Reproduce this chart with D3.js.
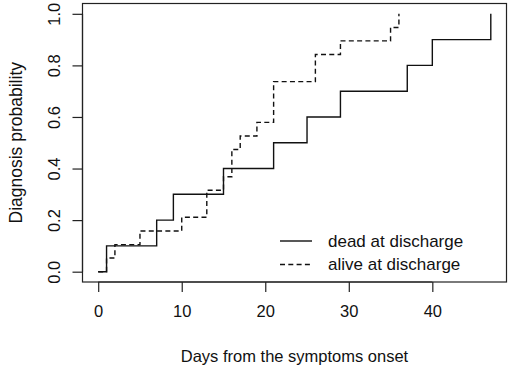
<!DOCTYPE html>
<html>
<head>
<meta charset="utf-8">
<script src="https://cdn.jsdelivr.net/npm/d3@7"></script>
<style>
  body { margin: 0; background: #fff; }
  text { font-family: "Liberation Sans", Arial, sans-serif; fill: #111; }
</style>
</head>
<body>
<div id="chart"></div>
<script>
// dead at discharge: step times (days) and cumulative probability
var deadDays = [0, 1, 7, 9, 15, 21, 25, 29, 37, 40, 47];
var deadProb = [0, 0.1, 0.2, 0.3, 0.4, 0.5, 0.6, 0.7, 0.8, 0.9, 1.0];
// alive at discharge
var aliveDays = [0, 1, 2, 5, 10, 13, 15, 16, 17, 19, 21, 26, 29, 35, 36];
var aliveProb = [0, 0.053, 0.105, 0.158, 0.211, 0.316, 0.368, 0.474, 0.526, 0.579, 0.737, 0.842, 0.895, 0.947, 1.0];

var xTicks = [0, 10, 20, 30, 40];
var yTicks = [0, 0.2, 0.4, 0.6, 0.8, 1.0];
var legendLabels = ["dead at discharge", "alive at discharge"];

var width = 510, height = 368;
var box = { left: 82.5, right: 506.5, top: 3.5, bottom: 282 };

var svg = d3.select("#chart").append("svg")
    .attr("width", width)
    .attr("height", height);

// scales (R style 4% padding)
var x = d3.scaleLinear().domain([-1.88, 48.88]).range([box.left, box.right]);
var y = d3.scaleLinear().domain([-0.04, 1.04]).range([box.bottom, box.top]);

// plot box
svg.append("rect")
    .attr("x", box.left).attr("y", box.top)
    .attr("width", box.right - box.left)
    .attr("height", box.bottom - box.top)
    .attr("fill", "none")
    .attr("stroke", "#222")
    .attr("stroke-width", 1.2);

// x axis
var xAxis = svg.append("g")
    .attr("transform", "translate(0," + box.bottom + ")")
    .call(d3.axisBottom(x).tickValues(xTicks).tickSize(10).tickPadding(13).tickSizeOuter(0));
xAxis.select(".domain")
    .attr("d", "M" + x(0) + ",0H" + x(40));
xAxis.selectAll("line, .domain").attr("stroke", "#222").attr("stroke-width", 1.2);
xAxis.selectAll("text")
    .style("font-size", "16.5px")
    .attr("fill", "#111")
    .style("font-family", "Liberation Sans, Arial, sans-serif");

// y axis
var yAxis = svg.append("g")
    .attr("transform", "translate(" + box.left + ",0)")
    .call(d3.axisLeft(y).tickValues(yTicks).tickSize(10).tickFormat(d3.format(".1f")));
yAxis.select(".domain")
    .attr("d", "M0," + y(0) + "V" + y(1));
yAxis.selectAll("line, .domain").attr("stroke", "#222").attr("stroke-width", 1.2);
yAxis.selectAll("text")
    .attr("x", null).attr("dy", null)
    .attr("transform", "translate(-29,0) rotate(-90)")
    .attr("text-anchor", "middle")
    .attr("dominant-baseline", "central")
    .style("font-size", "16.5px")
    .attr("fill", "#111")
    .style("font-family", "Liberation Sans, Arial, sans-serif");

// axis titles
svg.append("text")
    .attr("x", (box.left + box.right) / 2)
    .attr("y", 362)
    .attr("text-anchor", "middle")
    .style("font-size", "16.5px")
    .text("Days from the symptoms onset");

svg.append("text")
    .attr("transform", "translate(22," + ((box.top + box.bottom) / 2) + ") rotate(-90)")
    .attr("text-anchor", "middle")
    .style("font-size", "17.5px")
    .text("Diagnosis probability");

// step lines
var stepLine = d3.line()
    .x(d => x(d[0]))
    .y(d => y(d[1]))
    .curve(d3.curveStepAfter);

var series = [
    { pts: d3.zip(deadDays, deadProb), dash: null },
    { pts: d3.zip(aliveDays, aliveProb), dash: "5,3.3" }
];

// dashed first, solid on top
svg.append("path")
    .attr("d", stepLine(series[1].pts))
    .attr("fill", "none")
    .attr("stroke", "#111")
    .attr("stroke-width", 1.4)
    .attr("stroke-dasharray", series[1].dash);

svg.append("path")
    .attr("d", stepLine(series[0].pts))
    .attr("fill", "none")
    .attr("stroke", "#111")
    .attr("stroke-width", 1.4);

// legend
var legend = svg.append("g");
legendLabels.forEach(function (lab, i) {
    var ly = 241 + i * 23.5;
    legend.append("line")
        .attr("x1", 280).attr("x2", 312)
        .attr("y1", ly).attr("y2", ly)
        .attr("stroke", "#111")
        .attr("stroke-width", 1.4)
        .attr("stroke-dasharray", series[i].dash);
    legend.append("text")
        .attr("x", 328)
        .attr("y", ly)
        .attr("dominant-baseline", "central")
        .style("font-size", "17px")
        .text(lab);
});
</script>
</body>
</html>
